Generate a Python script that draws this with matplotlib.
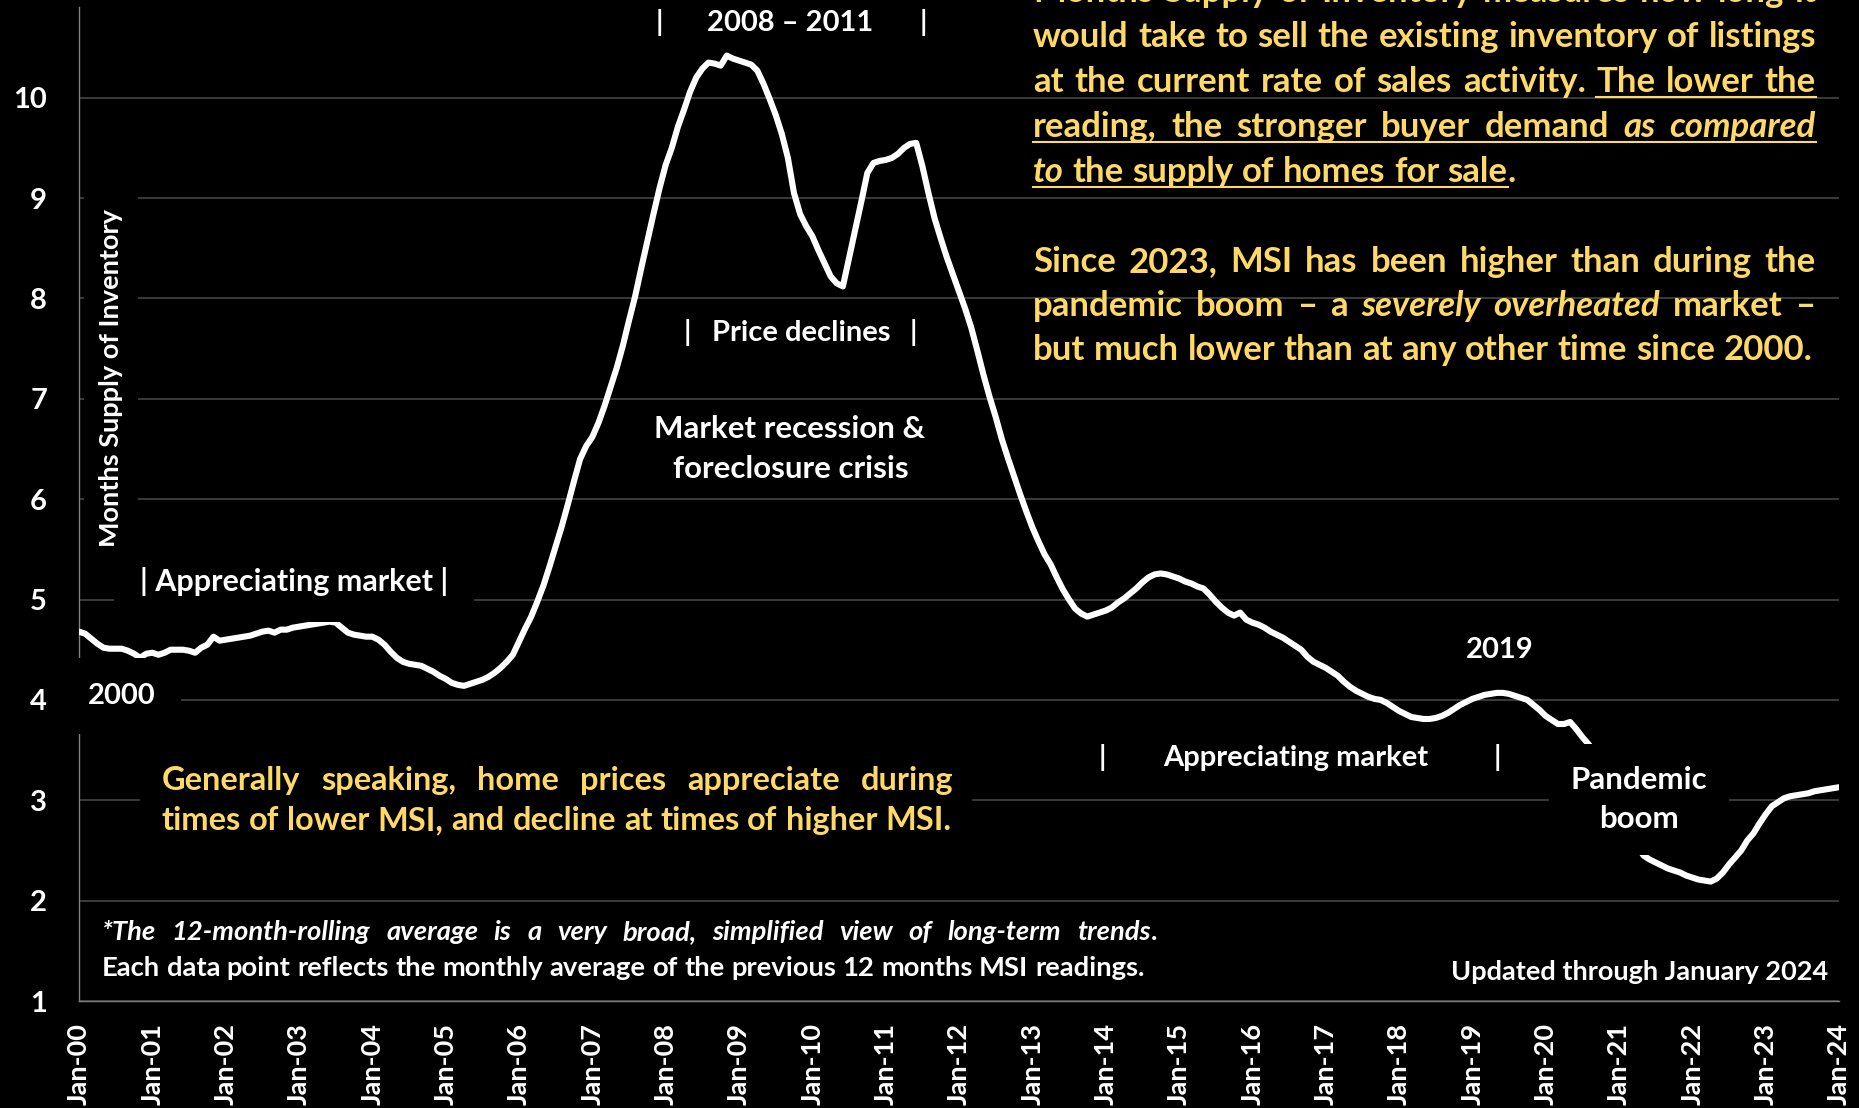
import numpy as np
import matplotlib.pyplot as plt
from matplotlib.lines import Line2D
from matplotlib.patches import Rectangle

W, H, DPI = 1859, 1108, 100
FONT = ['Lato', 'DejaVu Sans']
GOLD = '#FFD966'

# months supply of inventory, 12-month rolling average, Jan-2000 .. Jan-2024
msi = [
    4.68, 4.66, 4.61, 4.56, 4.52, 4.51, 4.51, 4.51, 4.49, 4.46, 4.42, 4.46,  # 2000
    4.47, 4.45, 4.47, 4.50, 4.50, 4.50, 4.49, 4.47, 4.52, 4.55, 4.63, 4.59,  # 2001
    4.60, 4.61, 4.62, 4.63, 4.64, 4.66, 4.68, 4.69, 4.67, 4.70, 4.70, 4.72,  # 2002
    4.73, 4.74, 4.75, 4.76, 4.77, 4.78, 4.77, 4.72, 4.67, 4.65, 4.64, 4.63,  # 2003
    4.63, 4.60, 4.55, 4.48, 4.42, 4.38, 4.36, 4.35, 4.34, 4.31, 4.28, 4.24,  # 2004
    4.21, 4.17, 4.15, 4.14, 4.16, 4.18, 4.20, 4.23, 4.27, 4.32, 4.38, 4.45,  # 2005
    4.58, 4.71, 4.83, 4.98, 5.14, 5.33, 5.53, 5.73, 5.95, 6.18, 6.40, 6.53,  # 2006
    6.62, 6.76, 6.93, 7.12, 7.31, 7.53, 7.78, 8.02, 8.30, 8.57, 8.84, 9.10,  # 2007
    9.33, 9.50, 9.71, 9.88, 10.06, 10.20, 10.29, 10.35, 10.34, 10.32, 10.42, 10.39,  # 2008
    10.37, 10.35, 10.33, 10.27, 10.14, 9.99, 9.83, 9.64, 9.40, 9.05, 8.84, 8.72,  # 2009
    8.62, 8.48, 8.35, 8.22, 8.15, 8.12, 8.40, 8.68, 8.96, 9.25, 9.35, 9.37,  # 2010
    9.38, 9.40, 9.44, 9.50, 9.54, 9.55, 9.32, 9.05, 8.80, 8.60, 8.41, 8.24,  # 2011
    8.07, 7.90, 7.71, 7.48, 7.24, 7.02, 6.82, 6.60, 6.41, 6.23, 6.05, 5.88,  # 2012
    5.72, 5.58, 5.45, 5.35, 5.22, 5.10, 5.00, 4.91, 4.86, 4.83, 4.85, 4.87,  # 2013
    4.89, 4.92, 4.97, 5.01, 5.06, 5.11, 5.17, 5.22, 5.25, 5.26, 5.25, 5.23,  # 2014
    5.21, 5.18, 5.16, 5.13, 5.11, 5.05, 4.98, 4.92, 4.87, 4.84, 4.87, 4.80,  # 2015
    4.77, 4.75, 4.72, 4.68, 4.65, 4.62, 4.58, 4.54, 4.50, 4.43, 4.38, 4.35,  # 2016
    4.32, 4.28, 4.24, 4.18, 4.13, 4.09, 4.06, 4.03, 4.01, 4.00, 3.97, 3.93,  # 2017
    3.89, 3.86, 3.83, 3.82, 3.81, 3.81, 3.82, 3.84, 3.87, 3.91, 3.95, 3.98,  # 2018
    4.01, 4.03, 4.05, 4.06, 4.07, 4.07, 4.06, 4.04, 4.02, 4.00, 3.95, 3.90,  # 2019
    3.84, 3.80, 3.76, 3.76, 3.78, 3.71, 3.63, 3.56, 3.48, 3.38, 3.25, 3.10,  # 2020
    2.95, 2.80, 2.66, 2.55, 2.45, 2.41, 2.38, 2.35, 2.32, 2.30, 2.28, 2.25,  # 2021
    2.23, 2.21, 2.20, 2.19, 2.22, 2.28, 2.36, 2.43, 2.50, 2.60, 2.67, 2.77,  # 2022
    2.86, 2.94, 2.98, 3.02, 3.04, 3.05, 3.06, 3.07, 3.09, 3.10, 3.11, 3.12,  # 2023
    3.13,                                                                    # 2024
]
year_labels = ['Jan-%02d' % (y % 100) for y in range(2000, 2025)]
y_ticks = list(range(1, 11))

months = np.arange(len(msi))

fig = plt.figure(figsize=(W / DPI, H / DPI), dpi=DPI, facecolor='black')
ax = fig.add_axes([79 / W, (H - 1001) / H, (1839 - 79) / W, (1001 - 7.4) / H])
ax.set_facecolor('black')

ax.plot(months, msi, color='white', lw=4.4, solid_joinstyle='round',
        solid_capstyle='round', zorder=3)

ax.set_xlim(0, 288)
ax.set_ylim(1, 10.9)
ax.set_xticks(months[::12])
ax.set_xticklabels(year_labels, rotation=90, fontsize=19.5, fontweight='bold',
                   family=FONT, color='white')
ax.set_yticks(y_ticks)
ax.set_yticklabels([str(v) for v in y_ticks], fontsize=21, fontweight='bold',
                   family=FONT, color='white')
ax.tick_params(axis='x', length=0, pad=16)
ax.tick_params(axis='y', length=0, pad=23)
ax.grid(axis='y', color='#404040', lw=1.3)
ax.grid(axis='x', visible=False)
for side in ['top', 'right']:
    ax.spines[side].set_visible(False)
for side in ['left', 'bottom']:
    ax.spines[side].set_color('#7f7f7f')
    ax.spines[side].set_linewidth(1.0)

renderer = fig.canvas.get_renderer()


def fxy(x, y):
    # pixel position (from top-left) -> figure fraction
    return x / W, 1 - y / H


def label(x, y, s, size=21, color='white', ha='center', box=None, **kw):
    bb = None
    if box is not None:
        pad = box / (size * DPI / 72)
        bb = dict(boxstyle='square,pad=%.2f' % pad, fc='black', ec='none')
    return fig.text(*fxy(x, y), s, fontsize=size, color=color, ha=ha,
                    va='baseline', fontweight='bold', family=FONT, bbox=bb, **kw)


def words(s, it=False, ul=False):
    return [[(w, it, ul)] for w in s.split()]


def set_line(line, x0, x1, base, size, color, justify=True):
    placed = []
    widths = []
    for word in line:
        parts = []
        for s, it, ul in word:
            t = fig.text(0, 0, s, fontsize=size, fontweight='bold', family=FONT,
                         style='italic' if it else 'normal', color=color,
                         ha='left', va='baseline')
            parts.append((t, t.get_window_extent(renderer).width, ul))
        placed.append(parts)
        widths.append(sum(p[1] for p in parts))
    if justify and len(line) > 1:
        gap = (x1 - x0 - sum(widths)) / (len(line) - 1)
    else:
        a = fig.text(0, 0, 'n n', fontsize=size, fontweight='bold', family=FONT)
        b = fig.text(0, 0, 'nn', fontsize=size, fontweight='bold', family=FONT)
        gap = a.get_window_extent(renderer).width - b.get_window_extent(renderer).width
        a.remove()
        b.remove()
    x = x0
    run = None
    runs = []
    for parts in placed:
        for t, w, ul in parts:
            t.set_position(fxy(x, base))
            if ul:
                run = [x, x + w] if run is None else [run[0], x + w]
            elif run is not None:
                runs.append(run)
                run = None
            x += w
        x += gap
    if run is not None:
        runs.append(run)
    for a, b in runs:
        fig.add_artist(Line2D([a / W, b / W], [1 - (base + 5) / H] * 2,
                              transform=fig.transFigure, color=color, lw=1.5))


# y axis title sits inside the plot area
fig.text(*fxy(111, 378), 'Months Supply of Inventory', rotation=90, fontsize=19.5,
         fontweight='bold', family=FONT, color='white', ha='center', va='center',
         bbox=dict(boxstyle='square,pad=0.55', fc='black', ec='none'))

# period annotations
label(659, 31, '|', size=21)
label(790, 31, '2008 \u2013 2011', size=21)
label(923, 31, '|', size=21)
label(687, 341, '|', size=21)
label(801, 341, 'Price declines', size=21)
label(913, 341, '|', size=21)
label(790, 438, 'Market recession &', size=22.5)
label(791, 478, 'foreclosure crisis', size=22.5)
label(294, 591, '| Appreciating market |', size=22, box=26)
label(122, 704, '2000', size=21, box=25)
label(1500, 658, '2019', size=21)
label(1102, 766, '|', size=21)
label(1296, 766, 'Appreciating market', size=21)
label(1497, 766, '|', size=21)
label(1639, 828, 'Pandemic\nboom', size=22.5, box=22, linespacing=1.47)
label(1828, 980, 'Updated through January 2024', size=19.5, ha='right')

# note on the right
right_par = [
    words('Months Supply of Inventory measures how long it'),
    words('would take to sell the existing inventory of listings'),
    words('at the current rate of sales activity.') + words('The lower the', ul=True),
    words('reading, the stronger buyer demand', ul=True) + words('as compared', it=True, ul=True),
    [[('to', True, True)]] + words('the supply of homes for', ul=True)
    + [[('sale', False, True), ('.', False, False)]],
]
for i, line in enumerate(right_par):
    set_line(line, 1033, 1816, 1.7 + 45 * i, 25, GOLD, justify=i < len(right_par) - 1)

right_par2 = [
    words('Since 2023, MSI has been higher than during the'),
    words('pandemic boom \u2013 a') + words('severely overheated', it=True) + words('market \u2013'),
    words('but much lower than at any other time since 2000.'),
]
for i, line in enumerate(right_par2):
    set_line(line, 1033, 1816, 271.7 + 44.2 * i, 25, GOLD, justify=i < 2)

# note on the left, on a black panel that cuts the grid line
fig.add_artist(Rectangle(fxy(140, 838), 832 / W, 73 / H, transform=fig.transFigure,
                         fc='black', ec='none', zorder=2))
gen = [
    words('Generally speaking, home prices appreciate during'),
    words('times of lower MSI, and decline at times of higher MSI.'),
]
for i, line in enumerate(gen):
    set_line(line, 162, 953, 790 + 40 * i, 23.4, GOLD, justify=i == 0)

foot = [
    words('*The 12-month-rolling average is a very broad, simplified view of long-term', it=True)
    + [[('trends', True, False), ('.', False, False)]],
    words('Each data point reflects the monthly average of the previous 12 months MSI readings.'),
]
for i, line in enumerate(foot):
    set_line(line, 102, 1157, 940 + 35.5 * i, 19.75, 'white', justify=i == 0)

fig.savefig('out.png', dpi=DPI, facecolor='black')
